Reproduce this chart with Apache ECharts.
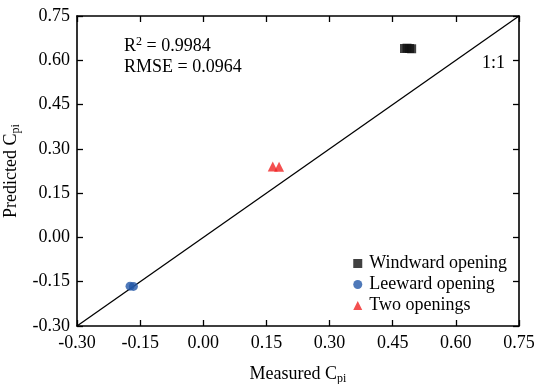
<!DOCTYPE html>
<html><head><meta charset="utf-8">
<script src="https://cdn.jsdelivr.net/npm/echarts@6/dist/echarts.min.js"></script>
<style>html,body{margin:0;padding:0;background:#fff}#c{width:534px;height:384px}</style>
</head><body><div id="c"></div>
<script>
const xTicks = [-0.30,-0.15,0.00,0.15,0.30,0.45,0.60,0.75];
const yTicks = [-0.30,-0.15,0.00,0.15,0.30,0.45,0.60,0.75];
const windward = [[0.478,0.640],[0.484,0.641],[0.490,0.640],[0.495,0.639]];
const leeward = [[-0.174,-0.165],[-0.166,-0.166]];
const twoOpen = [[0.165,0.240],[0.180,0.239]];
const oneToOne = [[-0.30,-0.30],[0.75,0.75]];
const FONT = '"Liberation Serif","Times New Roman",serif';
const FS = 18;
const chart = echarts.init(document.getElementById('c'));
const axisCommon = {
  min:-0.30, max:0.75, interval:0.15,
  axisLine:{show:true,onZero:false,lineStyle:{color:'#000',width:1.6}},
  axisTick:{show:true,inside:true,length:6,lineStyle:{color:'#000',width:1.3}},
  splitLine:{show:false},
  axisLabel:{color:'#000',fontFamily:FONT,fontSize:FS,formatter:v=>v.toFixed(2)}
};
const nameRich = {m:{fontFamily:FONT,fontSize:FS,color:'#000'},s:{fontFamily:FONT,fontSize:12,color:'#000',verticalAlign:'bottom',padding:[9,0,0,0]}};
chart.setOption({
  animation:false,
  grid:{left:77,right:15,top:16,bottom:58,containLabel:false,outerBoundsMode:'none'},
  xAxis:[Object.assign({},axisCommon,{type:'value',position:'bottom',
    name:'{m|Measured C}{s|pi}',nameLocation:'middle',nameGap:38,
    nameTextStyle:{rich:nameRich},
    axisLabel:Object.assign({},axisCommon.axisLabel,{margin:8})}),
    Object.assign({},axisCommon,{type:'value',position:'top',axisLabel:{show:false}})],
  yAxis:[Object.assign({},axisCommon,{type:'value',position:'left',
    name:'{m|Predicted C}{s|pi}',nameLocation:'middle',nameGap:53,nameRotate:90,
    nameTextStyle:{rich:nameRich},
    axisLabel:Object.assign({},axisCommon.axisLabel,{margin:7})}),
    Object.assign({},axisCommon,{type:'value',position:'right',axisLabel:{show:false}})],
  legend:{right:22,top:249,orient:'vertical',itemWidth:9,itemHeight:9,itemGap:2,
    textStyle:{fontFamily:FONT,fontSize:FS,lineHeight:19,color:'#000',padding:[0,0,0,2]},
    data:[{name:'Windward opening',icon:'rect'},{name:'Leeward opening',icon:'circle'},{name:'Two openings',icon:'triangle'}]},
  graphic:[
    {type:'text',left:124,top:36,style:{text:'{a|R}{b|2}{a| = 0.9984}',rich:{a:{fontFamily:FONT,fontSize:FS,fill:'#000'},b:{fontFamily:FONT,fontSize:12,fill:'#000',verticalAlign:'top',padding:[0,0,9,0]}}}},
    {type:'text',left:124,top:58,style:{text:'RMSE = 0.0964',font:FS+'px '+FONT,fill:'#000'}},
    {type:'text',left:482,top:54,style:{text:'1:1',font:FS+'px '+FONT,fill:'#000'}}
  ],
  series:[
    {type:'line',data:oneToOne,symbol:'none',lineStyle:{color:'#000',width:1.3},silent:true,z:1},
    {name:'Windward opening',type:'scatter',data:windward,symbol:'rect',symbolSize:9,itemStyle:{color:'#111'},z:3},
    {name:'Leeward opening',type:'scatter',data:leeward,symbol:'circle',symbolSize:9,itemStyle:{color:'#2358a8'},z:3},
    {name:'Two openings',type:'scatter',data:twoOpen,symbol:'triangle',symbolSize:10,itemStyle:{color:'#f02424'},z:3}
  ]
});
</script></body></html>
